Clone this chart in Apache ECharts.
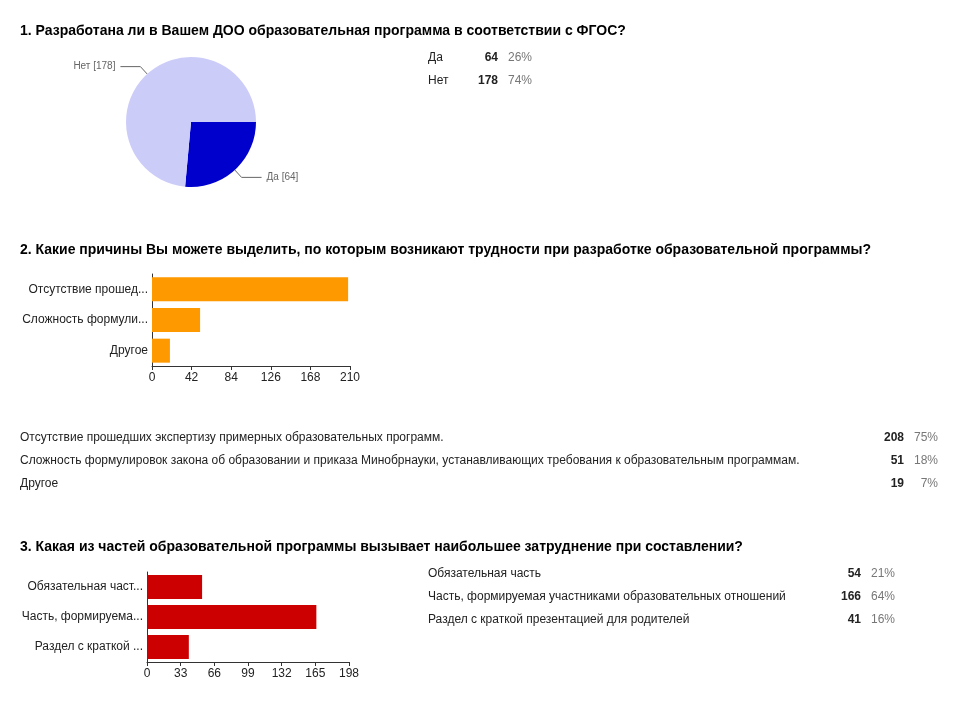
<!DOCTYPE html>
<html><head><meta charset="utf-8">
<script src="https://cdn.jsdelivr.net/npm/echarts@6/dist/echarts.min.js"></script>
<style>
body{margin:0;background:#fff;font-family:Arial,"Liberation Sans",sans-serif;}
#c{position:absolute;left:0;top:0;width:962px;height:701px;}
.t{position:absolute;left:20px;font-weight:bold;font-size:14px;color:#000;white-space:nowrap}
table{position:absolute;border-collapse:collapse;font-size:12px;color:#222}
td{padding:0;height:23px;white-space:nowrap}
td.n{font-weight:bold;text-align:right}
td.p{color:#777;text-align:right}
</style></head><body>
<div id="c"></div>
<div id="ov"></div>
<script>
const titles = ["1. Разработана ли в Вашем ДОО образовательная программа в соответствии с ФГОС?",
"2. Какие причины Вы можете выделить, по которым возникают трудности при разработке образовательной программы?",
"3. Какая из частей образовательной программы вызывает наибольшее затруднение при составлении?"];
const q1Cats = ["Да","Нет"];
const q1Vals = [64,178];
const q1Pct = ["26%","74%"];
const q2Cats = ["Отсутствие прошедших экспертизу примерных образовательных программ.","Сложность формулировок закона об образовании и приказа Минобрнауки, устанавливающих требования к образовательным программам.","Другое"];
const q2Vals = [208,51,19];
const q2Pct = ["75%","18%","7%"];
const q2Ticks = [0,42,84,126,168,210];
const q3Cats = ["Обязательная часть","Часть, формируемая участниками образовательных отношений","Раздел с краткой презентацией для родителей"];
const q3Vals = [54,166,41];
const q3Pct = ["21%","64%","16%"];
const q3Ticks = [0,33,66,99,132,165,198];

const ov=document.getElementById('ov');
[[22,titles[0]],[241,titles[1]],[538,titles[2]]].forEach(([y,s])=>{const d=document.createElement('div');d.className='t';d.style.top=y+'px';d.textContent=s;ov.appendChild(d);});
function tbl(x,y,cats,vals,pct,w){let h='<table style="left:'+x+'px;top:'+y+'px;width:'+w+'px">';
cats.forEach((c,i)=>{h+='<tr><td>'+c+'</td><td class="n">'+vals[i]+'</td><td class="p" style="width:34px">'+pct[i]+'</td></tr>';});
ov.insertAdjacentHTML('beforeend',h+'</table>');}
tbl(428,45,q1Cats,q1Vals,q1Pct,104);
tbl(20,425,q2Cats,q2Vals,q2Pct,918);
tbl(428,561,q3Cats,q3Vals,q3Pct,467);

const trunc=s=>s.length>17?s.slice(0,17)+'...':s;
const ch=echarts.init(document.getElementById('c'));
function xa(gi,ticks){return {gridIndex:gi,type:'value',min:0,max:ticks[ticks.length-1],interval:ticks[1],
 axisLine:{show:true,lineStyle:{color:'#333'}},axisTick:{show:true,length:4,lineStyle:{color:'#333'}},
 splitLine:{show:false},axisLabel:{color:'#222',fontSize:12,margin:6}};}
function ya(gi,cats){return {gridIndex:gi,type:'category',data:cats,inverse:true,
 axisLine:{show:true,lineStyle:{color:'#333'}},axisTick:{show:false},
 axisLabel:{color:'#222',fontSize:12,margin:4,formatter:trunc}};}
ch.setOption({animation:false,
 grid:[{left:152,width:198,top:274,height:92},{left:147,width:202,top:572,height:90}],
 xAxis:[xa(0,q2Ticks),xa(1,q3Ticks)],
 yAxis:[ya(0,q2Cats),ya(1,q3Cats)],
 series:[
  {type:'pie',center:[191,122],radius:65,startAngle:0,clockwise:true,data:q1Cats.map((c,i)=>({name:c,value:q1Vals[i]})),
   color:['#0000cc','#ccccf9'],
   label:{formatter:'{b} [{c}]',color:'#666',fontSize:10},
   labelLine:{length:10,length2:20,lineStyle:{color:'#666'}}},
  {type:'bar',xAxisIndex:0,yAxisIndex:0,data:q2Vals,barWidth:24,itemStyle:{color:'#ff9900'}},
  {type:'bar',xAxisIndex:1,yAxisIndex:1,data:q3Vals,barWidth:24,itemStyle:{color:'#cc0000'}}
 ]});
</script></body></html>
